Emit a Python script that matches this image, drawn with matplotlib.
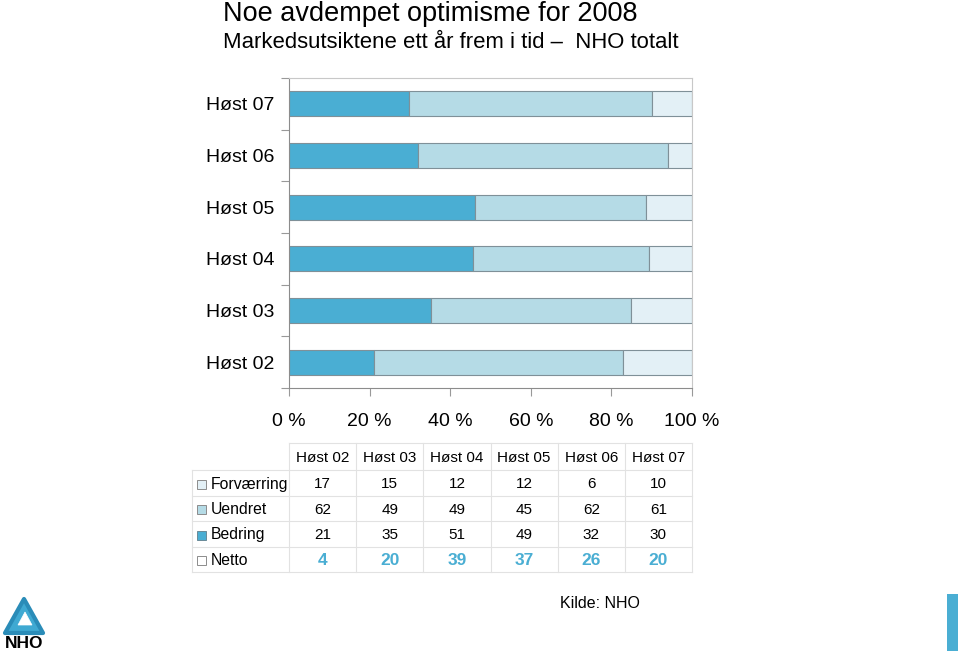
import matplotlib
matplotlib.use("Agg")
import matplotlib.pyplot as plt
from matplotlib.patches import Rectangle, Polygon
import numpy as np

plt.rcParams['font.family'] = ['Liberation Sans', 'DejaVu Sans']

categories = ["Høst 02", "Høst 03", "Høst 04", "Høst 05", "Høst 06", "Høst 07"]
bedring = [21, 35, 51, 49, 32, 30]
uendret = [62, 49, 49, 45, 62, 61]
forverring = [17, 15, 12, 12, 6, 10]
series_names = ["Forværring", "Uendret", "Bedring", "Netto"]

c_bed = "#4aaed3"
c_uen = "#b5dbe6"
c_for = "#e3f0f6"
c_edge = "#7f9098"
c_net = "#4aaed3"

W, H = 960, 656
fig = plt.figure(figsize=(9.6, 6.56), dpi=100)

def fx(px):
    return px / W

def fy(py):
    return 1 - py / H

# Title
fig.text(fx(223), fy(14), "Noe avdempet optimisme for 2008", fontsize=19.5, va="center", ha="left")
fig.text(fx(223), fy(42), "Markedsutsiktene ett år frem i tid –  NHO totalt", fontsize=15.9, va="center", ha="left")

# Bar axes
L, R, T, B = 289, 692, 78, 388
ax = fig.add_axes([fx(L), fy(B), fx(R - L), (B - T) / H])
y = np.arange(len(categories))
bh = 0.485
b = np.array(bedring, float)
u = np.array(uendret, float)
f = np.array(forverring, float)
tot = b + u + f
bp, up, fp = b / tot * 100, u / tot * 100, f / tot * 100
ax.barh(y, bp, height=bh, color=c_bed, edgecolor=c_edge, linewidth=0.8)
ax.barh(y, up, left=bp, height=bh, color=c_uen, edgecolor=c_edge, linewidth=0.8)
ax.barh(y, fp, left=bp + up, height=bh, color=c_for, edgecolor=c_edge, linewidth=0.8)
ax.set_xlim(0, 100)
ax.set_ylim(-0.5, len(categories) - 0.5)
ax.set_xticks(np.arange(0, 101, 20))
ax.set_xticklabels([f"{v} %" for v in range(0, 101, 20)], fontsize=14)
ax.set_yticks(y)
ax.set_yticklabels(categories, fontsize=14)
ax.set_yticks(np.arange(-0.5, len(categories)), minor=True)
ax.tick_params(axis="y", which="major", length=0, pad=10.5)
ax.tick_params(axis="y", which="minor", length=6, color="#999999", width=0.8)
ax.tick_params(axis="x", which="major", length=6, color="#999999", width=0.8, pad=12)
for s in ["left", "bottom"]:
    ax.spines[s].set_color("#8c8c8c")
    ax.spines[s].set_linewidth(0.8)
for s in ["top", "right"]:
    ax.spines[s].set_color("#c8c8c8")
    ax.spines[s].set_linewidth(0.8)

# Table
col_w = (R - L) / len(categories)
row_y = [443, 470, 496, 521, 547, 572]
tl = 192
grid_c = "#e2e2e2"
fig.add_artist(plt.Line2D([fx(L), fx(R)], [fy(row_y[0]), fy(row_y[0])], color=grid_c, lw=0.8))
for ry in row_y[1:]:
    fig.add_artist(plt.Line2D([fx(tl), fx(R)], [fy(ry), fy(ry)], color=grid_c, lw=0.8))
for i in range(len(categories) + 1):
    xx = L + i * col_w
    fig.add_artist(plt.Line2D([fx(xx), fx(xx)], [fy(row_y[0]), fy(row_y[-1])], color=grid_c, lw=0.8))
fig.add_artist(plt.Line2D([fx(tl), fx(tl)], [fy(row_y[1]), fy(row_y[-1])], color=grid_c, lw=0.8))

for i, c in enumerate(categories):
    fig.text(fx(L + (i + 0.5) * col_w), fy((row_y[0] + row_y[1]) / 2 + 1), c, fontsize=11, ha="center", va="center")

netto = [bb - ff for bb, ff in zip(bedring, forverring)]
rows = [forverring, uendret, bedring, netto]
sw_cols = [c_for, c_uen, c_bed, "white"]
sw_edges = ["#8c8c8c", "#8c8c8c", "#6a8a98", "#8c8c8c"]
for r, (name, vals) in enumerate(zip(series_names, rows)):
    cy = (row_y[r + 1] + row_y[r + 2]) / 2 + 1
    s = 9
    fig.add_artist(Rectangle((fx(197), fy(cy + s / 2)), s / W, s / H, facecolor=sw_cols[r],
                             edgecolor=sw_edges[r], lw=0.7, transform=fig.transFigure))
    fig.text(fx(211), fy(cy), name, fontsize=11.3, ha="left", va="center")
    for i, v in enumerate(vals):
        if r == 3:
            fig.text(fx(L + (i + 0.5) * col_w), fy(cy), str(v), fontsize=12.5, ha="center", va="center",
                     color=c_net, fontweight="bold")
        else:
            fig.text(fx(L + (i + 0.5) * col_w), fy(cy), str(v), fontsize=11, ha="center", va="center")

# Source
fig.text(fx(600), fy(604), "Kilde: NHO", fontsize=11.5, ha="center", va="center")

# Logo (approximation)
tri = Polygon([(fx(24), fy(599)), (fx(43), fy(633)), (fx(5), fy(633))], closed=True,
              facecolor="#3fa9d2", edgecolor="#2a8cb8", lw=3, joinstyle="round", transform=fig.transFigure)
fig.add_artist(tri)
tri2 = Polygon([(fx(25), fy(612)), (fx(32), fy(625)), (fx(18), fy(625))], closed=True,
               facecolor="white", edgecolor="white", lw=0.5, transform=fig.transFigure)
fig.add_artist(tri2)
fig.text(fx(24), fy(644), "NHO", fontsize=12.5, fontweight="bold", ha="center", va="center")

# Right-hand blue bar
fig.add_artist(Rectangle((fx(947), fy(651)), 11 / W, 57 / H, facecolor="#4aaed3", edgecolor="none",
                         transform=fig.transFigure))

fig.savefig("out.png", dpi=100)
